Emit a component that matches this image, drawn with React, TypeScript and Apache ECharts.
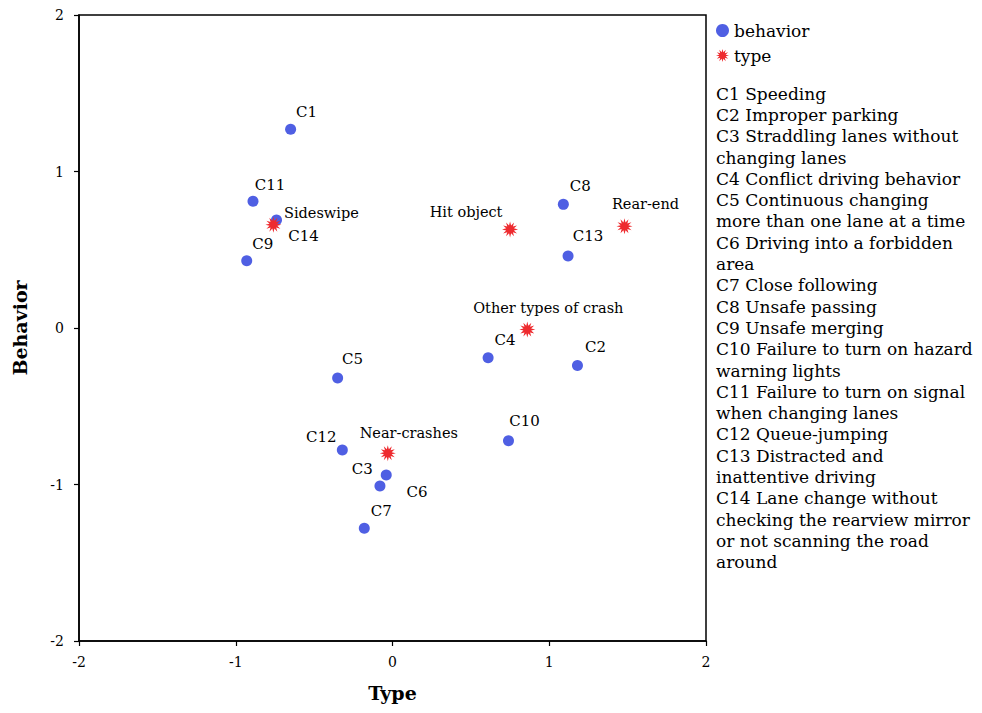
import React, { useEffect, useRef } from "react";
import * as echarts from "echarts";

const behaviorNames = ["C1", "C2", "C3", "C4", "C5", "C6", "C7", "C8", "C9", "C10", "C11", "C12", "C13", "C14"];
const behaviorX = [-0.65, 1.18, -0.04, 0.61, -0.35, -0.08, -0.18, 1.09, -0.93, 0.74, -0.89, -0.32, 1.12, -0.74];
const behaviorY = [1.27, -0.24, -0.94, -0.19, -0.32, -1.01, -1.28, 0.79, 0.43, -0.72, 0.81, -0.78, 0.46, 0.69];

const typeNames = ["Sideswipe", "Hit object", "Rear-end", "Other types of crash", "Near-crashes"];
const typeX = [-0.76, 0.75, 1.48, 0.86, -0.03];
const typeY = [0.66, 0.63, 0.65, -0.01, -0.8];

const axisTicks = [-2, -1, 0, 1, 2];

const legendNotes = [
  "C1 Speeding",
  "C2 Improper parking",
  "C3 Straddling lanes without",
  "changing lanes",
  "C4 Conflict driving behavior",
  "C5 Continuous changing",
  "more than one lane at a time",
  "C6 Driving into a forbidden",
  "area",
  "C7 Close following",
  "C8 Unsafe passing",
  "C9 Unsafe merging",
  "C10 Failure to turn on hazard",
  "warning lights",
  "C11 Failure to turn on signal",
  "when changing lanes",
  "C12 Queue-jumping",
  "C13 Distracted and",
  "inattentive driving",
  "C14 Lane change without",
  "checking the rearview mirror",
  "or not scanning the road",
  "around",
];

// label placement (style): offset of label centre from point, px
const behaviorLabelOffset: number[][] = [
  [16, -17], [18, -19], [-24, -6], [17, -18], [15, -19], [37, 6], [17, -17],
  [17, -18], [16, -17], [16, -20], [17, -16], [-21, -13], [20, -20], [27, 16],
];
const typeLabelOffset: number[][] = [
  [48, -12], [-44, -17], [21, -22], [21, -22], [21, -20],
];

const SERIF = "'DejaVu Serif', 'Liberation Serif', serif";
const BLUE = "#4f5fe3";
const RED = "#ee2b2f";

const starPath = (() => {
  const n = 12;
  const pts: string[] = [];
  for (let i = 0; i < 2 * n; i++) {
    const r = i % 2 === 0 ? 1 : 0.5;
    const a = (i * Math.PI) / n - Math.PI / 2;
    pts.push((r * Math.cos(a)).toFixed(3) + " " + (r * Math.sin(a)).toFixed(3));
  }
  return "path://M" + pts.join(" L") + " Z";
})();

export default function App() {
  const ref = useRef<HTMLDivElement>(null);
  useEffect(() => {
    if (!ref.current) return;
    const chart = echarts.init(ref.current, null, { renderer: "svg" });
    const behaviorData = behaviorNames.map((n, i) => ({
      name: n,
      value: [behaviorX[i], behaviorY[i]],
      label: { offset: behaviorLabelOffset[i] },
    }));
    const typeData = typeNames.map((n, i) => ({
      name: n,
      value: [typeX[i], typeY[i]],
      label: { offset: typeLabelOffset[i] },
    }));
    const axisCommon = {
      min: -2,
      max: 2,
      interval: 1,
      axisLine: { show: true, onZero: false, lineStyle: { color: "#000", width: 1.5 } },
      axisTick: { show: true, length: 5, lineStyle: { color: "#000", width: 1.2 } },
      axisLabel: { color: "#000", fontFamily: SERIF, fontSize: 14, formatter: (v: number) => (axisTicks.includes(v) ? String(v) : "") },
      splitLine: { show: false },
      nameTextStyle: { fontFamily: SERIF, fontSize: 19, fontWeight: "bold", color: "#000" },
    };
    chart.setOption({
      animation: false,
      backgroundColor: "#fff",
      grid: { left: 79, right: 276, top: 15, bottom: 72, show: true, borderColor: "#000", borderWidth: 1.5, backgroundColor: "transparent" },
      xAxis: { ...axisCommon, type: "value", name: "Type", nameLocation: "middle", nameGap: 42, axisLabel: { ...axisCommon.axisLabel, margin: 14 } },
      yAxis: { ...axisCommon, type: "value", name: "Behavior", nameLocation: "middle", nameGap: 50, axisLabel: { ...axisCommon.axisLabel, margin: 15 } },
      legend: {
        orient: "vertical",
        left: 711,
        top: 17,
        itemGap: 8,
        itemWidth: 13,
        itemHeight: 13,
        textStyle: { fontFamily: SERIF, fontSize: 17, lineHeight: 17, color: "#000" },
        data: [
          { name: "behavior", icon: "circle" },
          { name: "type", icon: starPath },
        ],
      },
      series: [
        {
          name: "behavior",
          type: "scatter",
          symbol: "circle",
          symbolSize: 11,
          itemStyle: { color: BLUE, opacity: 1 },
          data: behaviorData,
          label: {
            show: true,
            position: "inside",
            align: "center",
            verticalAlign: "middle",
            formatter: "{b}",
            color: "#000",
            fontFamily: SERIF,
            fontSize: 15,
          },
          z: 2,
        },
        {
          name: "type",
          type: "scatter",
          symbol: starPath,
          symbolSize: 16,
          itemStyle: { color: RED, opacity: 1 },
          data: typeData,
          label: {
            show: true,
            position: "inside",
            align: "center",
            verticalAlign: "middle",
            formatter: "{b}",
            color: "#000",
            fontFamily: SERIF,
            fontSize: 14.5,
          },
          z: 3,
        },
      ],
      graphic: [
        {
          type: "text",
          left: 716,
          top: 83,
          style: {
            text: legendNotes.join("\n"),
            fontFamily: SERIF,
            fontSize: 17,
            lineHeight: 21.3,
            fill: "#000",
          },
        },
      ],
    });
    return () => chart.dispose();
  }, []);
  return <div ref={ref} style={{ width: 982, height: 713, margin: -8 }} />;
}
